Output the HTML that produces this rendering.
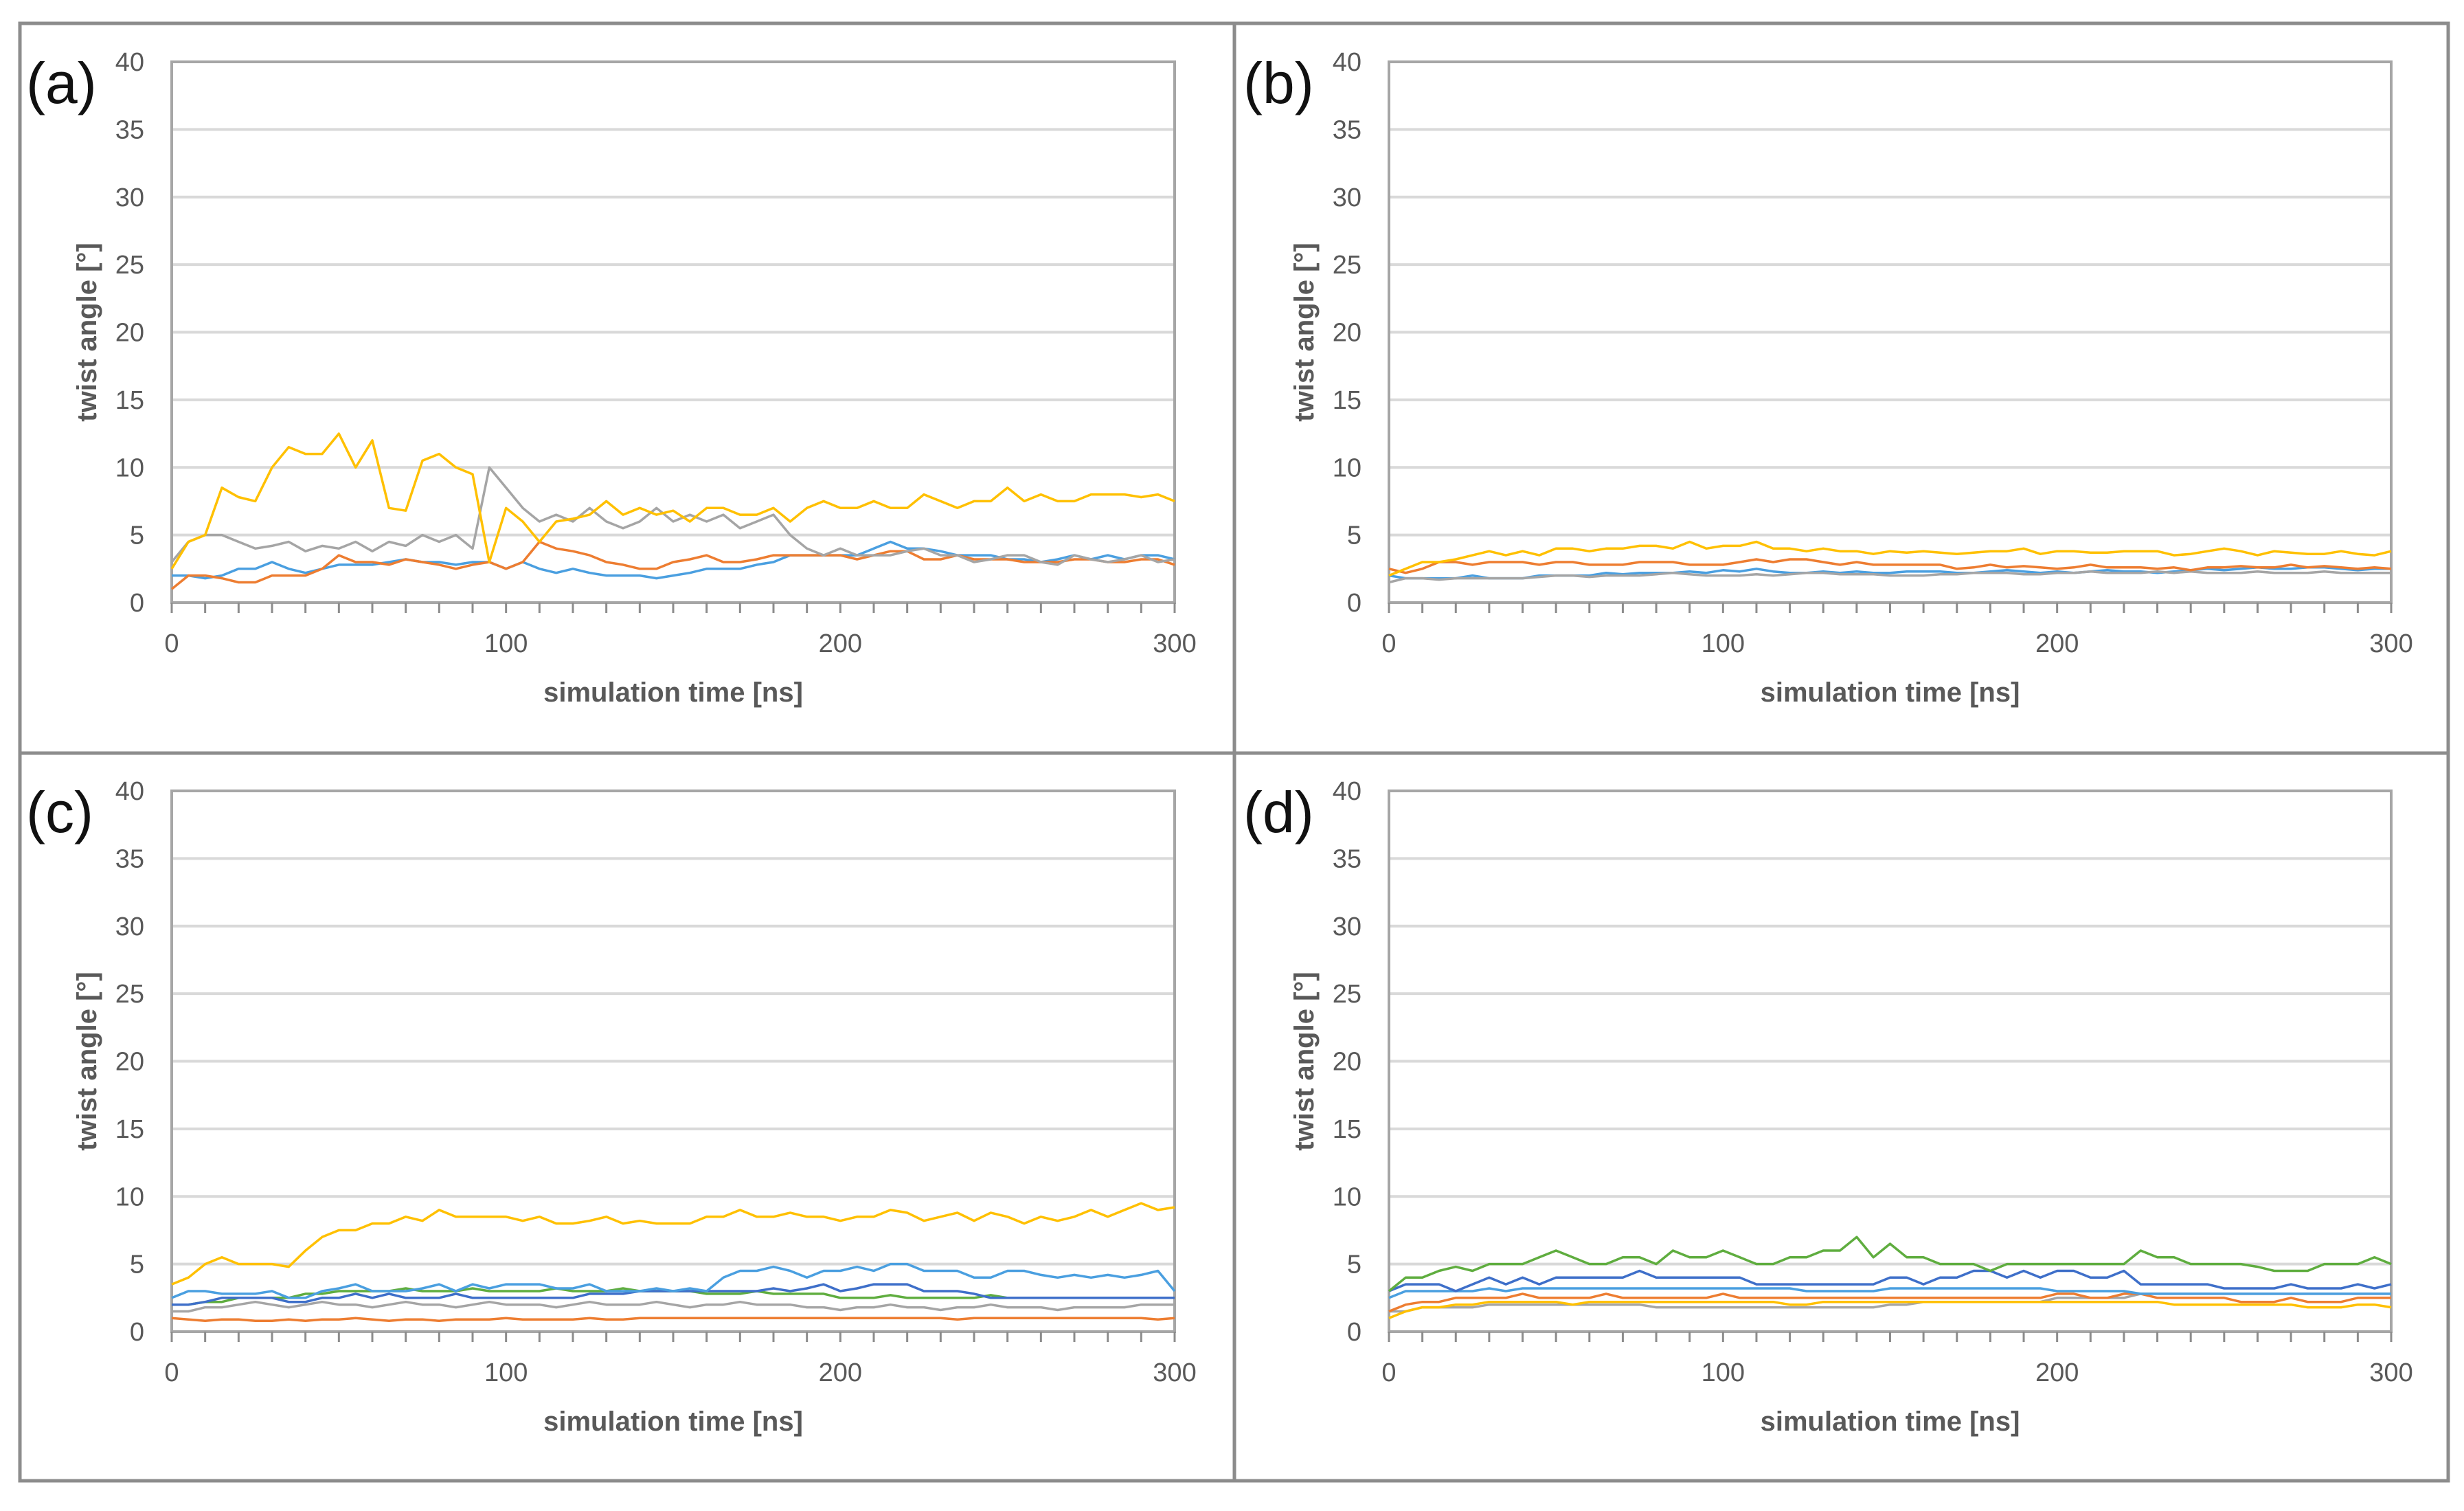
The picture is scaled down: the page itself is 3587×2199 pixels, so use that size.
<!DOCTYPE html>
<html><head><meta charset="utf-8"><style>
html,body{margin:0;padding:0;background:#fff;}
svg{display:block;font-family:"Liberation Sans",sans-serif;}
</style></head><body>
<svg id="fig" width="3587" height="2199" viewBox="0 0 3587 2199" xmlns="http://www.w3.org/2000/svg">
<rect x="0" y="0" width="3587" height="2199" fill="#fff"/>
<g fill="none" stroke="#8c8c8c" stroke-width="5">
<rect x="29" y="34" width="3535" height="2121"/>
<line x1="1797" y1="34" x2="1797" y2="2155"/>
<line x1="29" y1="1096" x2="3564" y2="1096"/>
</g>
<g id="charts"></g>
</svg>
<script>
const yTicks=[0,5,10,15,20,25,30,35,40];
const xTicks=[0,100,200,300];
const panelLabels=["(a)","(b)","(c)","(d)"];
const cBlue="#4a9fe0",cOrange="#ed7d31",cGray="#a5a5a5",cYellow="#ffc000",cDark="#3e6fc9",cGreen="#5fad3f";
// panel a
const aBlue=[2,2,1.8,2,2.5,2.5,3,2.5,2.2,2.5,2.8,2.8,2.8,3,3.2,3,3,2.8,3,3,2.5,3,2.5,2.2,2.5,2.2,2,2,2,1.8,2,2.2,2.5,2.5,2.5,2.8,3,3.5,3.5,3.5,3.5,3.5,4,4.5,4,4,3.8,3.5,3.5,3.5,3.2,3.2,3,3.2,3.5,3.2,3.5,3.2,3.5,3.5,3.2];
const aOrange=[1,2,2,1.8,1.5,1.5,2,2,2,2.5,3.5,3,3,2.8,3.2,3,2.8,2.5,2.8,3,2.5,3,4.5,4,3.8,3.5,3,2.8,2.5,2.5,3,3.2,3.5,3,3,3.2,3.5,3.5,3.5,3.5,3.5,3.2,3.5,3.8,3.8,3.2,3.2,3.5,3.2,3.2,3.2,3,3,3,3.2,3.2,3,3,3.2,3.2,2.8];
const aGray=[3,4.5,5,5,4.5,4,4.2,4.5,3.8,4.2,4,4.5,3.8,4.5,4.2,5,4.5,5,4,10,8.5,7,6,6.5,6,7,6,5.5,6,7,6,6.5,6,6.5,5.5,6,6.5,5,4,3.5,4,3.5,3.5,3.5,3.8,4,3.5,3.5,3,3.2,3.5,3.5,3,2.8,3.5,3.2,3,3.2,3.5,3,3.2];
const aYellow=[2.5,4.5,5,8.5,7.8,7.5,10,11.5,11,11,12.5,10,12,7,6.8,10.5,11,10,9.5,3,7,6,4.5,6,6.2,6.5,7.5,6.5,7,6.5,6.8,6,7,7,6.5,6.5,7,6,7,7.5,7,7,7.5,7,7,8,7.5,7,7.5,7.5,8.5,7.5,8,7.5,7.5,8,8,8,7.8,8,7.5];
// panel b
const bBlue=[2,1.8,1.8,1.8,1.8,2,1.8,1.8,1.8,2,2,2,2,2.2,2.1,2.2,2.2,2.2,2.3,2.2,2.4,2.3,2.5,2.3,2.2,2.2,2.3,2.2,2.3,2.2,2.2,2.3,2.3,2.3,2.2,2.2,2.3,2.4,2.3,2.2,2.3,2.2,2.3,2.4,2.3,2.3,2.2,2.3,2.4,2.5,2.4,2.5,2.6,2.5,2.5,2.6,2.6,2.5,2.4,2.5,2.5];
const bGray=[1.5,1.8,1.8,1.7,1.8,1.8,1.8,1.8,1.8,1.9,2,2,1.9,2,2,2,2.1,2.2,2.1,2,2,2,2.1,2,2.1,2.2,2.2,2.1,2.1,2.1,2,2,2,2.1,2.1,2.2,2.2,2.2,2.1,2.1,2.2,2.2,2.3,2.2,2.2,2.2,2.3,2.2,2.3,2.2,2.2,2.2,2.3,2.2,2.2,2.2,2.3,2.2,2.2,2.2,2.2];
const bOrange=[2.5,2.2,2.5,3,3,2.8,3,3,3,2.8,3,3,2.8,2.8,2.8,3,3,3,2.8,2.8,2.8,3,3.2,3,3.2,3.2,3,2.8,3,2.8,2.8,2.8,2.8,2.8,2.5,2.6,2.8,2.6,2.7,2.6,2.5,2.6,2.8,2.6,2.6,2.6,2.5,2.6,2.4,2.6,2.6,2.7,2.6,2.6,2.8,2.6,2.7,2.6,2.5,2.6,2.5];
const bYellow=[2,2.5,3,3,3.2,3.5,3.8,3.5,3.8,3.5,4,4,3.8,4,4,4.2,4.2,4,4.5,4,4.2,4.2,4.5,4,4,3.8,4,3.8,3.8,3.6,3.8,3.7,3.8,3.7,3.6,3.7,3.8,3.8,4,3.6,3.8,3.8,3.7,3.7,3.8,3.8,3.8,3.5,3.6,3.8,4,3.8,3.5,3.8,3.7,3.6,3.6,3.8,3.6,3.5,3.8];
// panel c
const cOrangeS=[1,0.9,0.8,0.9,0.9,0.8,0.8,0.9,0.8,0.9,0.9,1,0.9,0.8,0.9,0.9,0.8,0.9,0.9,0.9,1,0.9,0.9,0.9,0.9,1,0.9,0.9,1,1,1,1,1,1,1,1,1,1,1,1,1,1,1,1,1,1,1,0.9,1,1,1,1,1,1,1,1,1,1,1,0.9,1];
const cGrayS=[1.5,1.5,1.8,1.8,2,2.2,2,1.8,2,2.2,2,2,1.8,2,2.2,2,2,1.8,2,2.2,2,2,2,1.8,2,2.2,2,2,2,2.2,2,1.8,2,2,2.2,2,2,2,1.8,1.8,1.6,1.8,1.8,2,1.8,1.8,1.6,1.8,1.8,2,1.8,1.8,1.8,1.6,1.8,1.8,1.8,1.8,2,2,2];
const cGreenS=[2,2,2.2,2.2,2.5,2.5,2.5,2.5,2.8,2.8,3,3,3,3,3.2,3,3,3,3.2,3,3,3,3,3.2,3,3,3,3.2,3,3,3,3,2.8,2.8,2.8,3,2.8,2.8,2.8,2.8,2.5,2.5,2.5,2.7,2.5,2.5,2.5,2.5,2.5,2.7,2.5,2.5,2.5,2.5,2.5,2.5,2.5,2.5,2.5,2.5,2.5];
const cDarkS=[2,2,2.2,2.5,2.5,2.5,2.5,2.2,2.2,2.5,2.5,2.8,2.5,2.8,2.5,2.5,2.5,2.8,2.5,2.5,2.5,2.5,2.5,2.5,2.5,2.8,2.8,2.8,3,3,3,3,3,3,3,3,3.2,3,3.2,3.5,3,3.2,3.5,3.5,3.5,3,3,3,2.8,2.5,2.5,2.5,2.5,2.5,2.5,2.5,2.5,2.5,2.5,2.5,2.5];
const cBlueS=[2.5,3,3,2.8,2.8,2.8,3,2.5,2.5,3,3.2,3.5,3,3,3,3.2,3.5,3,3.5,3.2,3.5,3.5,3.5,3.2,3.2,3.5,3,3,3,3.2,3,3.2,3,4,4.5,4.5,4.8,4.5,4,4.5,4.5,4.8,4.5,5,5,4.5,4.5,4.5,4,4,4.5,4.5,4.2,4,4.2,4,4.2,4,4.2,4.5,3];
const cYellowS=[3.5,4,5,5.5,5,5,5,4.8,6,7,7.5,7.5,8,8,8.5,8.2,9,8.5,8.5,8.5,8.5,8.2,8.5,8,8,8.2,8.5,8,8.2,8,8,8,8.5,8.5,9,8.5,8.5,8.8,8.5,8.5,8.2,8.5,8.5,9,8.8,8.2,8.5,8.8,8.2,8.8,8.5,8,8.5,8.2,8.5,9,8.5,9,9.5,9,9.2];
// panel d
const dGray=[1.5,1.5,1.8,1.8,1.8,1.8,2,2,2,2,2,2,2,2,2,2,1.8,1.8,1.8,1.8,1.8,1.8,1.8,1.8,1.8,1.8,1.8,1.8,1.8,1.8,2,2,2.2,2.2,2.2,2.2,2.2,2.2,2.2,2.2,2.5,2.5,2.5,2.5,2.5,2.8,2.8,2.8,2.8,2.8,2.8,2.8,2.8,2.8,2.8,2.8,2.8,2.8,2.8,2.8,2.8];
const dYellow=[1,1.5,1.8,1.8,2,2,2.2,2.2,2.2,2.2,2.2,2,2.2,2.2,2.2,2.2,2.2,2.2,2.2,2.2,2.2,2.2,2.2,2.2,2,2,2.2,2.2,2.2,2.2,2.2,2.2,2.2,2.2,2.2,2.2,2.2,2.2,2.2,2.2,2.2,2.2,2.2,2.2,2.2,2.2,2.2,2,2,2,2,2,2,2,2,1.8,1.8,1.8,2,2,1.8];
const dOrange=[1.5,2,2.2,2.2,2.5,2.5,2.5,2.5,2.8,2.5,2.5,2.5,2.5,2.8,2.5,2.5,2.5,2.5,2.5,2.5,2.8,2.5,2.5,2.5,2.5,2.5,2.5,2.5,2.5,2.5,2.5,2.5,2.5,2.5,2.5,2.5,2.5,2.5,2.5,2.5,2.8,2.8,2.5,2.5,2.8,2.8,2.5,2.5,2.5,2.5,2.5,2.2,2.2,2.2,2.5,2.2,2.2,2.2,2.5,2.5,2.5];
const dBlue=[2.5,3,3,3,3,3,3.2,3,3.2,3.2,3.2,3.2,3.2,3.2,3.2,3.2,3.2,3.2,3.2,3.2,3.2,3.2,3.2,3.2,3.2,3,3,3,3,3,3.2,3.2,3.2,3.2,3.2,3.2,3.2,3.2,3.2,3.2,3,3,3,3,3,2.8,2.8,2.8,2.8,2.8,2.8,2.8,2.8,2.8,2.8,2.8,2.8,2.8,2.8,2.8,2.8];
const dDark=[3,3.5,3.5,3.5,3,3.5,4,3.5,4,3.5,4,4,4,4,4,4.5,4,4,4,4,4,4,3.5,3.5,3.5,3.5,3.5,3.5,3.5,3.5,4,4,3.5,4,4,4.5,4.5,4,4.5,4,4.5,4.5,4,4,4.5,3.5,3.5,3.5,3.5,3.5,3.2,3.2,3.2,3.2,3.5,3.2,3.2,3.2,3.5,3.2,3.5];
const dGreen=[3,4,4,4.5,4.8,4.5,5,5,5,5.5,6,5.5,5,5,5.5,5.5,5,6,5.5,5.5,6,5.5,5,5,5.5,5.5,6,6,7,5.5,6.5,5.5,5.5,5,5,5,4.5,5,5,5,5,5,5,5,5,6,5.5,5.5,5,5,5,5,4.8,4.5,4.5,4.5,5,5,5,5.5,5];

const panels=[
 {x0:250,x1:1710,y0:90,y1:877,series:[[aBlue,cBlue,"blue"],[aOrange,cOrange,"orange"],[aGray,cGray,"gray"],[aYellow,cYellow,"yellow"]]},
 {x0:2022,x1:3481,y0:90,y1:877,series:[[bBlue,cBlue,"blue"],[bGray,cGray,"gray"],[bOrange,cOrange,"orange"],[bYellow,cYellow,"yellow"]]},
 {x0:250,x1:1710,y0:1151,y1:1938,series:[[cOrangeS,cOrange,"orange"],[cGrayS,cGray,"gray"],[cGreenS,cGreen,"green"],[cDarkS,cDark,"dark-blue"],[cBlueS,cBlue,"blue"],[cYellowS,cYellow,"yellow"]]},
 {x0:2022,x1:3481,y0:1151,y1:1938,series:[[dGray,cGray,"gray"],[dYellow,cYellow,"yellow"],[dOrange,cOrange,"orange"],[dBlue,cBlue,"blue"],[dDark,cDark,"dark-blue"],[dGreen,cGreen,"green"]]}
];
const NS="http://www.w3.org/2000/svg";
const root=document.getElementById("charts");
function mk(tag,attrs,parent){const e=document.createElementNS(NS,tag);for(const k in attrs)e.setAttribute(k,attrs[k]);parent.appendChild(e);return e;}
panels.forEach((p,pi)=>{
 const sx=v=>p.x0+(v/300)*(p.x1-p.x0);
 const sy=v=>p.y1-(v/40)*(p.y1-p.y0);
 const g=mk("g",{},root);
 
 
 yTicks.forEach(t=>{
  if(t>0&&t<40){const gl=mk("line",{x1:p.x0,x2:p.x1,y1:sy(t),y2:sy(t),stroke:"#d9d9d9","stroke-width":4},g);
   
   }
  const tl=mk("text",{x:p.x0-40,y:sy(t)+13,"text-anchor":"end","font-size":38,fill:"#595959"},g);
  tl.textContent=t;
  
  
 });
 const fr=mk("rect",{x:p.x0,y:p.y0,width:p.x1-p.x0,height:p.y1-p.y0,fill:"none",stroke:"#a6a6a6","stroke-width":4},g);
 
 
 for(let v=0;v<=300;v+=10){
  const tk=mk("line",{x1:sx(v),x2:sx(v),y1:p.y1,y2:p.y1+15,stroke:"#8c8c8c","stroke-width":3},g);
  
  
 }
 xTicks.forEach(t=>{
  const tl=mk("text",{x:sx(t),y:p.y1+72,"text-anchor":"middle","font-size":38,fill:"#595959"},g);
  tl.textContent=t;
  
  
 });
 const xt=mk("text",{x:(p.x0+p.x1)/2,y:p.y1+144,"text-anchor":"middle","font-size":40,"font-weight":"bold",fill:"#595959"},g);
 xt.textContent="simulation time [ns]";
 
 
 const cy=(p.y0+p.y1)/2;
 const yt=mk("text",{x:0,y:0,transform:`translate(${p.x0-110},${cy}) rotate(-90)`,"text-anchor":"middle","font-size":40,"font-weight":"bold",fill:"#595959"},g);
 yt.textContent="twist angle [°]";
 
 
 const pl=mk("text",{x:p.x0-212,y:p.y0+60,"font-size":84,fill:"#111"},g);
 pl.textContent=panelLabels[pi];
 
 
 p.series.forEach(s=>{
  const arr=s[0],n=arr.length;
  const pts=arr.map((v,i)=>sx(i*300/(n-1)).toFixed(1)+","+sy(v).toFixed(1)).join(" ");
  const ln=mk("polyline",{points:pts,fill:"none",stroke:s[1],"stroke-width":3.5,"stroke-linejoin":"round"},g);
  
  
 });
});
</script>
</body></html>
